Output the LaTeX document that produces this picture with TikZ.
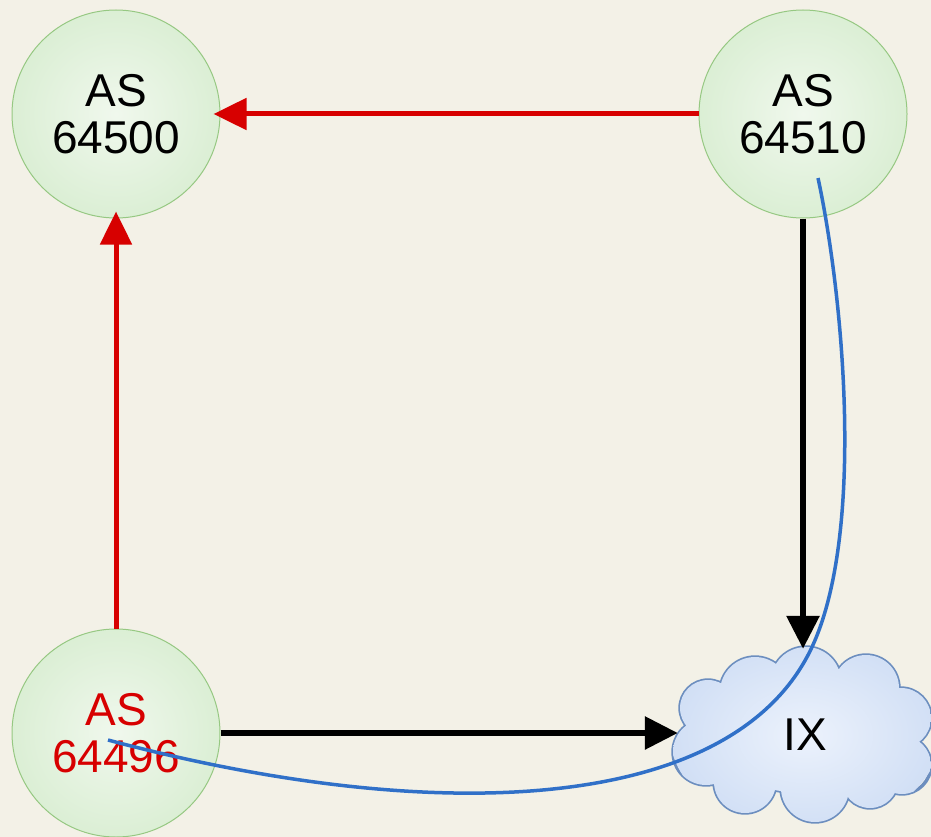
\documentclass[tikz,border=0pt]{standalone}
\usepackage{fontspec}
\setmainfont{Liberation Sans}
\usetikzlibrary{arrows.meta}
\definecolor{bg}{RGB}{243,241,231}
\definecolor{gin}{RGB}{240,248,237}
\definecolor{gout}{RGB}{198,229,188}
\definecolor{gborder}{RGB}{150,200,130}
\definecolor{cin}{RGB}{236,242,252}
\definecolor{cout}{RGB}{182,204,238}
\definecolor{cborder}{RGB}{108,142,191}
\definecolor{redline}{RGB}{215,0,0}
\definecolor{blueline}{RGB}{48,112,200}
\pgfdeclareradialshading{greenrad}{\pgfpoint{0bp}{0bp}}{color(0bp)=(gin); color(50bp)=(gout)}
\pgfdeclareradialshading{cloudrad}{\pgfpoint{0bp}{0bp}}{color(0bp)=(cin); color(50bp)=(cout)}
\tikzset{
  asnode/.style={circle, draw=gborder, line width=1pt, shade, shading=greenrad,
    minimum size=208pt, inner sep=0pt, align=center,
    font=\fontsize{46}{47}\selectfont},
  ixnode/.style={rectangle, minimum width=254pt, minimum height=172pt, inner sep=0pt,
    font=\fontsize{46}{47}\selectfont},
  redarrow/.style={draw=redline, line width=5pt, -{Triangle[length=33pt,width=31pt]}, shorten >=-7pt},
  blackarrow/.style={draw=black, line width=6pt, -{Triangle[length=33pt,width=32pt]}},
  bluecurve/.style={draw=blueline, line width=3.5pt},
  cloudshape/.style={insert path={
    (708,708) circle[radius=28]
    (706,752) circle[radius=33]
    (755,692) circle[radius=35]
    (806,682) circle[radius=35]
    (866,688) circle[radius=33]
    (901,718) circle[radius=30]
    (902,765) circle[radius=29]
    (870,780) circle[radius=28]
    (815,788) circle[radius=34]
    (745,782) circle[radius=31]
    (805,735) ellipse[x radius=95, y radius=58]
  }}
}
\begin{document}
\begin{tikzpicture}[x=1pt,y=-1pt]
\fill[bg] (0,0) rectangle (931,837);
\useasboundingbox (0,0) rectangle (931,837);

% AS nodes
\node[asnode] (a500) at (116,114) {AS\\64500};
\node[asnode] (a510) at (803,114) {AS\\64510};
\node[asnode, text=redline] (a496) at (116,733) {AS\\64496};

% cloud
\draw[cborder, line width=3.4pt] (805,735) [cloudshape];
\begin{scope}
  \clip (805,735) [cloudshape];
  \shade[shading=cloudrad] (805,735) ellipse [x radius=135, y radius=95];
\end{scope}
\node[ixnode] (ix) at (805,735) {IX};

% arrows
\draw[redarrow] (a510) -- (a500);
\draw[redarrow] (a496) -- (a500);
\draw[blackarrow] (a496) -- (a496 -| ix.west);
\draw[blackarrow] (a510) -- (a510 |- ix.north);

% blue curve
\coordinate (bs) at (108,740);
\coordinate (bj) at (807,657);
\coordinate (be) at (818,178);
\draw[bluecurve] (bs) .. controls (427,825) and (721.5,815.4) .. (bj)
  .. controls (866.4,547) and (844.3,300.5) .. (be);
\end{tikzpicture}
\end{document}
